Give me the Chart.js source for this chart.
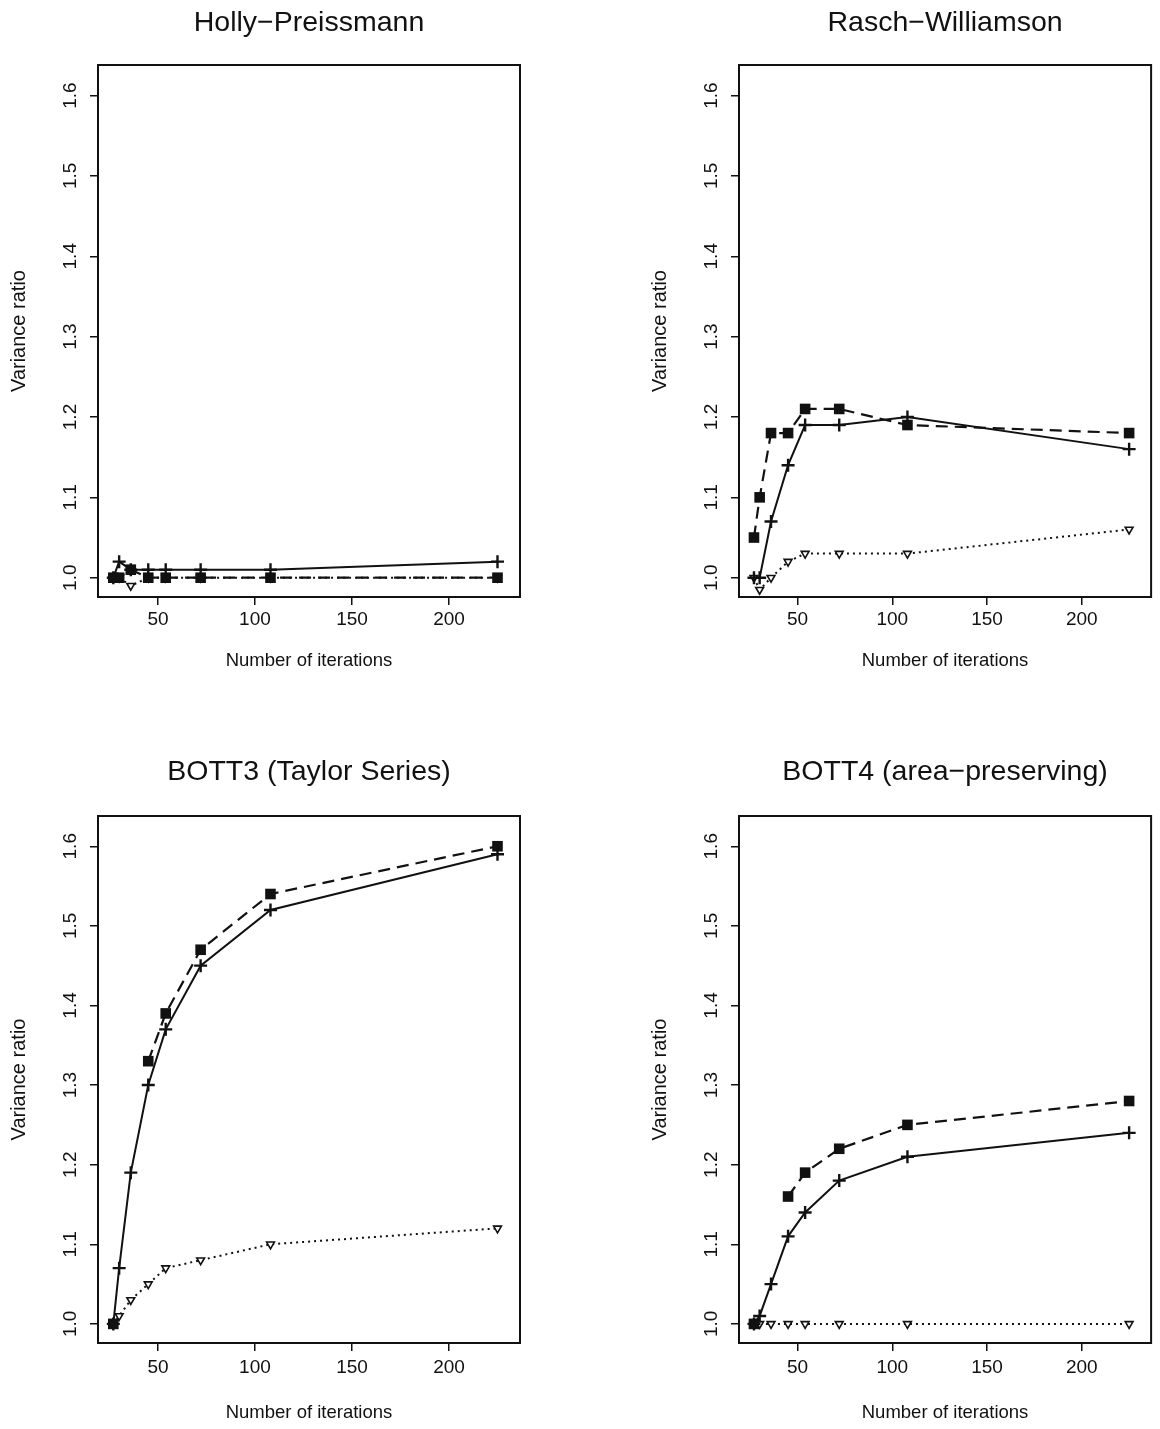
<!DOCTYPE html>
<html>
<head>
<meta charset="utf-8">
<script src="https://cdn.jsdelivr.net/npm/chart.js@4"></script>
<style>
  body { margin: 0; background: #fff; }
  #wrap { position: relative; width: 1160px; height: 1429px; }
  canvas { position: absolute; }
</style>
</head>
<body>
<div id="wrap">
  <canvas id="c1"></canvas>
  <canvas id="c2"></canvas>
  <canvas id="c3"></canvas>
  <canvas id="c4"></canvas>
</div>
<script>
// number of iterations (x)
const iterations = [27, 30, 36, 45, 54, 72, 108, 225];

// tick labels
const xTicks = [50, 100, 150, 200];
const yTicks = [1.0, 1.1, 1.2, 1.3, 1.4, 1.5, 1.6];

// panel titles
const titles = ["Holly−Preissmann", "Rasch−Williamson", "BOTT3 (Taylor Series)", "BOTT4 (area−preserving)"];

// Holly-Preissmann
const hpPlus     = [1.00, 1.02, 1.01, 1.01, 1.01, 1.01, 1.01, 1.02];
const hpSquare   = [1.00, 1.00, 1.01, 1.00, 1.00, 1.00, 1.00, 1.00];
const hpTriangle = [1.00, 1.00, 0.99, 1.00, 1.00, 1.00, 1.00, 1.00];

// Rasch-Williamson
const rwPlus     = [1.00, 1.00, 1.07, 1.14, 1.19, 1.19, 1.20, 1.16];
const rwSquare   = [1.05, 1.10, 1.18, 1.18, 1.21, 1.21, 1.19, 1.18];
const rwTriangle = [1.00, 0.985, 1.00, 1.02, 1.03, 1.03, 1.03, 1.06];

// BOTT3 (Taylor Series)
const b3Plus     = [1.00, 1.07, 1.19, 1.30, 1.37, 1.45, 1.52, 1.59];
const b3Square   = [1.00, null, null, 1.33, 1.39, 1.47, 1.54, 1.60];
const b3Triangle = [1.00, 1.01, 1.03, 1.05, 1.07, 1.08, 1.10, 1.12];

// BOTT4 (area-preserving)
const b4Plus     = [1.00, 1.01, 1.05, 1.11, 1.14, 1.18, 1.21, 1.24];
const b4Square   = [1.00, null, null, 1.16, 1.19, 1.22, 1.25, 1.28];
const b4Triangle = [1.00, 1.00, 1.00, 1.00, 1.00, 1.00, 1.00, 1.00];


// axis ranges
const xMin = 19.1, xMax = 236.6;
const yMin = 0.976, yMax = 1.638;

const FONT = '"Liberation Sans", Arial, sans-serif';
const INK = "#111";
const TICK_SIZE = 19;
const XTITLE_SIZE = 18.5;
const YTITLE_SIZE = 20;
const TICK_LEN = 8;

Chart.defaults.font.family = FONT;
Chart.defaults.color = INK;


// page layout of the four panels (canvas rect + plot box)
const panels = [
  { id: "c1", title: titles[0], plus: hpPlus, square: hpSquare, tri: hpTriangle,
    x: 0, y: 0, w: 580, h: 714, box: [98, 65, 520, 597], titleY: 23, xTickY: 620, xTitleY: 661 },
  { id: "c2", title: titles[1], plus: rwPlus, square: rwSquare, tri: rwTriangle,
    x: 641, y: 0, w: 519, h: 714, box: [739, 65, 1158, 597], titleY: 23, xTickY: 620, xTitleY: 661 },
  { id: "c3", title: titles[2], plus: b3Plus, square: b3Square, tri: b3Triangle,
    x: 0, y: 714, w: 580, h: 715, box: [98, 816, 520, 1343], titleY: 772, xTickY: 1368, xTitleY: 1413 },
  { id: "c4", title: titles[3], plus: b4Plus, square: b4Square, tri: b4Triangle,
    x: 641, y: 714, w: 519, h: 715, box: [739, 816, 1158, 1343], titleY: 772, xTickY: 1368, xTitleY: 1413 }
];


function toPoints(values) {
  return iterations.map((it, i) => ({ x: it, y: values[i] }));
}


// box, title and rotated y labels (R style)
const frame = {
  id: "frame",
  afterDraw(chart, args, opts) {
    const { ctx, chartArea: a } = chart;
    const ys = chart.scales.y;
    ctx.save();
    ctx.strokeStyle = INK;
    ctx.lineWidth = 2;
    ctx.strokeRect(a.left, a.top, a.right - a.left, a.bottom - a.top);

    // title
    ctx.fillStyle = INK;
    ctx.font = "28.5px " + FONT;
    ctx.textAlign = "center";
    ctx.textBaseline = "middle";
    ctx.fillText(opts.text, (a.left + a.right) / 2, opts.titleY);

    // y tick labels, rotated
    ctx.font = TICK_SIZE + "px " + FONT;
    yTicks.forEach(v => {
      const py = ys.getPixelForValue(v);
      ctx.save();
      ctx.translate(a.left - 27, py);
      ctx.rotate(-Math.PI / 2);
      ctx.fillText(v.toFixed(1), 0, 0);
      ctx.restore();
    });
    ctx.restore();
  }
};


function makeChart(p) {
  const canvas = document.getElementById(p.id);
  canvas.width = p.w;
  canvas.height = p.h;
  canvas.style.left = p.x + "px";
  canvas.style.top = p.y + "px";

  const [L, T, R, B] = p.box;

  return new Chart(canvas, {
    type: "line",
    data: {
      datasets: [
        {
          label: "plus",
          data: toPoints(p.plus),
          borderColor: INK,
          borderWidth: 2,
          pointStyle: "cross",
          pointRadius: 6.5,
          pointBorderWidth: 2.4,
          pointBorderColor: INK
        },
        {
          label: "square",
          data: toPoints(p.square),
          borderColor: INK,
          borderWidth: 2.2,
          borderDash: [12, 7],
          pointStyle: "rect",
          pointRadius: 7.5,
          pointBackgroundColor: INK,
          pointBorderColor: INK,
          pointBorderWidth: 0
        },
        {
          label: "triangle",
          data: toPoints(p.tri),
          borderColor: INK,
          borderWidth: 2,
          borderDash: [2, 4],
          pointStyle: "triangle",
          pointRotation: 180,
          pointRadius: 4.5,
          pointBackgroundColor: "#fff",
          pointBorderColor: INK,
          pointBorderWidth: 1.6
        }
      ]
    },
    options: {
      responsive: false,
      animation: false,
      spanGaps: false,
      layout: {
        padding: { top: T - p.y, right: p.x + p.w - R, left: 0, bottom: 0 }
      },
      plugins: {
        legend: { display: false },
        tooltip: { enabled: false },
        frame: { text: p.title, titleY: p.titleY - p.y }
      },
      scales: {
        x: {
          type: "linear",
          min: xMin,
          max: xMax,
          afterBuildTicks: s => { s.ticks = xTicks.map(v => ({ value: v })); },
          afterFit: s => { s.height = p.y + p.h - B; },
          border: { display: false },
          grid: { drawOnChartArea: false, drawTicks: true, tickLength: TICK_LEN, color: INK, lineWidth: 1.5 },
          ticks: {
            font: { size: TICK_SIZE },
            color: INK,
            padding: p.xTickY - B - TICK_LEN - TICK_SIZE * 0.6,
            maxRotation: 0,
            callback: v => String(v)
          },
          title: {
            display: true,
            text: "Number of iterations",
            font: { size: XTITLE_SIZE },
            color: INK,
            padding: { top: 0, bottom: (p.y + p.h) - p.xTitleY - XTITLE_SIZE * 0.6 }
          }
        },
        y: {
          type: "linear",
          min: yMin,
          max: yMax,
          afterBuildTicks: s => { s.ticks = yTicks.map(v => ({ value: v })); },
          afterFit: s => { s.width = L - p.x; },
          border: { display: false },
          grid: { drawOnChartArea: false, drawTicks: true, tickLength: TICK_LEN, color: INK, lineWidth: 1.5 },
          ticks: { display: false },
          title: {
            display: true,
            text: "Variance ratio",
            font: { size: YTITLE_SIZE },
            color: INK,
            padding: { top: 19 - YTITLE_SIZE * 0.6, bottom: 0 }
          }
        }
      }
    },
    plugins: [frame]
  });
}


panels.forEach(makeChart);
</script>
</body>
</html>
